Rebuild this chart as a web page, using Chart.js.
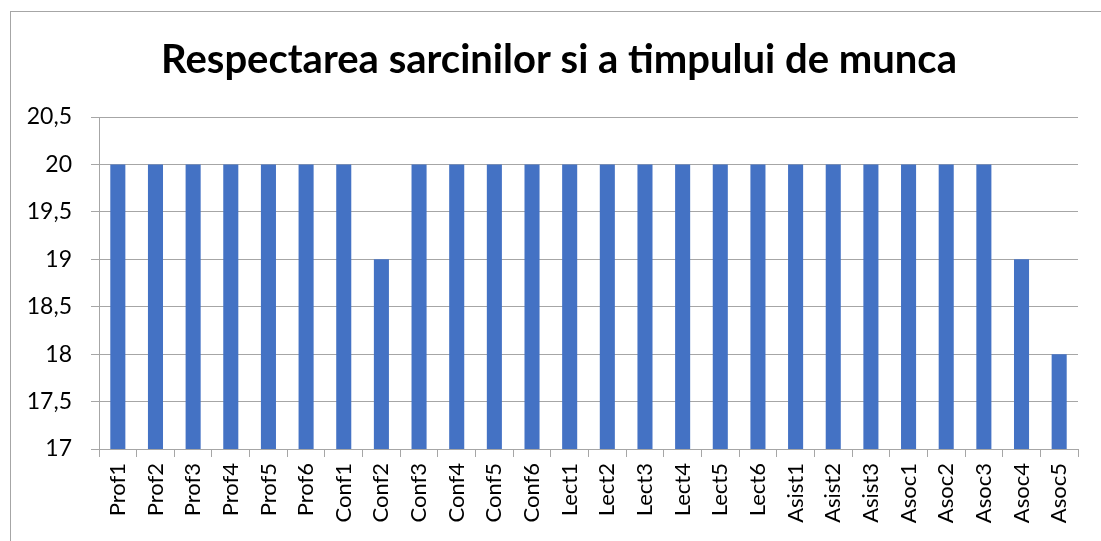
<!DOCTYPE html>
<html>
<head>
<meta charset="utf-8">
<script src="https://cdn.jsdelivr.net/npm/chart.js@4/dist/chart.umd.min.js"></script>
<style>
  html, body { margin: 0; padding: 0; background: #fff; }
  #wrap { width: 1101px; height: 541px; position: relative; }
</style>
</head>
<body>
<div id="wrap"><canvas id="canvas" width="1101" height="541"></canvas></div>
<script>
const categories = ["Prof1", "Prof2", "Prof3", "Prof4", "Prof5", "Prof6",
  "Conf1", "Conf2", "Conf3", "Conf4", "Conf5", "Conf6",
  "Lect1", "Lect2", "Lect3", "Lect4", "Lect5", "Lect6",
  "Asist1", "Asist2", "Asist3", "Asoc1", "Asoc2", "Asoc3", "Asoc4", "Asoc5"];
const values = [20, 20, 20, 20, 20, 20,
  20, 19, 20, 20, 20, 20,
  20, 20, 20, 20, 20, 20,
  20, 20, 20, 20, 20, 20, 19, 18];
const yMin = 17;
const yMax = 20.5;
const yStep = 0.5;
const title = "Respectarea sarcinilor si a timpului de munca";

const font = "Lato, 'Open Sans', sans-serif";

// white background, border around the chart and the title
const frame = {
  id: "frame",
  beforeDraw(chart) {
    const c = chart.ctx;
    c.save();
    c.fillStyle = "#fff";
    c.fillRect(0, 0, chart.width, chart.height);
    c.strokeStyle = "#a6a6a6";
    c.lineWidth = 1;
    c.strokeRect(10.5, 11.5, chart.width + 20, chart.height + 20);
    c.fillStyle = "#000";
    c.font = "bold 40px " + font;
    c.textAlign = "center";
    c.textBaseline = "middle";
    c.fillText(title, 559, 60);
    c.restore();
  }
};

const ctx = document.getElementById("canvas").getContext("2d");
const myChart = new Chart(ctx, {
  type: "bar",
  data: {
    labels: categories,
    datasets: [{
      data: values,
      backgroundColor: "#4472C4",
      categoryPercentage: 1,
      barPercentage: 0.4,
    }],
  },
  options: {
    responsive: false,
    animation: false,
    layout: { padding: { left: 0, right: 23, top: 117, bottom: 0 } },
    plugins: {
      legend: { display: false },
      tooltip: { enabled: false },
      title: { display: false },
    },
    scales: {
      x: {
        afterFit: (s) => { s.height = 92; },
        grid: {
          drawOnChartArea: false,
          drawTicks: true,
          tickLength: 8,
          color: "#a6a6a6",
        },
        border: { color: "#a6a6a6" },
        ticks: {
          color: "#000",
          font: { family: font, size: 22 },
          minRotation: 90,
          maxRotation: 90,
          autoSkip: false,
          padding: 6,
        },
      },
      y: {
        min: yMin,
        max: yMax,
        afterFit: (s) => { s.width = 99; },
        grid: { color: "#a6a6a6", tickLength: 8 },
        border: { color: "#a6a6a6" },
        ticks: {
          stepSize: yStep,
          color: "#000",
          font: { family: font, size: 23 },
          padding: 19,
          callback: (v) => String(v).replace(".", ","),
        },
      },
    },
  },
  plugins: [frame],
});
</script>
</body>
</html>
